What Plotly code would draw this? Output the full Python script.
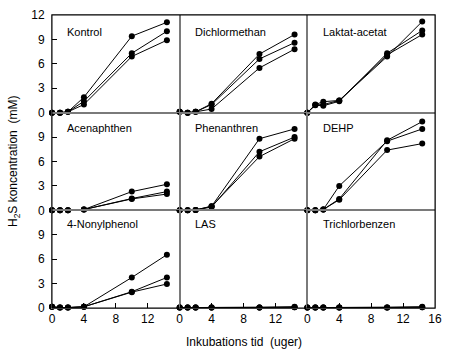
import plotly.graph_objects as go
from plotly.subplots import make_subplots

weeks = [0, 1, 2, 4, 10, 14.4]

panel_names = ["Kontrol", "Dichlormethan", "Laktat-acetat",
               "Acenaphthen", "Phenanthren", "DEHP",
               "4-Nonylphenol", "LAS", "Trichlorbenzen"]

kontrol = [[0, 0, 0.1, 1.9, 9.4, 11.1],
           [0, 0, 0.1, 1.4, 7.3, 10.0],
           [0, 0, 0.1, 1.0, 6.9, 8.9]]
dichlormethan = [[0.1, 0, 0.1, 1.1, 7.2, 9.6],
                 [0.1, 0, 0.1, 1.0, 6.6, 8.6],
                 [0.1, 0, 0.1, 0.45, 5.5, 7.8]]
laktat_acetat = [[0, 1.0, 1.35, 1.5, 6.9, 11.2],
                 [0, 0.9, 0.85, 1.4, 7.3, 10.1],
                 [0, 0.95, 1.0, 1.5, 7.1, 9.6]]
acenaphthen = [[0, 0, 0, 0.1, 2.3, 3.2],
               [0, 0, 0, 0.1, 1.45, 2.3],
               [0, 0, 0, 0.1, 1.4, 2.0]]
phenanthren = [[0, 0, 0.05, 0.5, 8.8, 10.0],
               [0, 0, 0.05, 0.4, 7.2, 9.0],
               [0, 0, 0.05, 0.5, 6.6, 8.8]]
dehp = [[0, 0, 0.1, 3.0, 8.5, 10.0],
        [0, 0, 0.1, 1.4, 8.6, 10.9],
        [0, 0, 0.1, 1.3, 7.4, 8.2]]
nonylphenol = [[0.15, 0.05, 0.05, 0.15, 3.75, 6.55],
               [0.15, 0.05, 0.05, 0.15, 2.0, 3.75],
               [0.15, 0.05, 0.05, 0.15, 1.95, 2.95]]
las = [[0.05, 0.05, 0.05, 0.05, 0.05, 0.15],
       [0.05, 0.05, 0.05, 0.05, 0.05, 0.1],
       [0.05, 0.05, 0.05, 0.05, 0.05, 0.1]]
trichlorbenzen = [[0.05, 0.05, 0.05, 0.05, 0.05, 0.15],
                  [0.05, 0.05, 0.05, 0.05, 0.05, 0.1],
                  [0.05, 0.05, 0.05, 0.05, 0.05, 0.1]]

panels = [kontrol, dichlormethan, laktat_acetat,
          acenaphthen, phenanthren, dehp,
          nonylphenol, las, trichlorbenzen]

y_ticks_top = [0, 3, 6, 9, 12]
y_ticks_other = [0, 3, 6, 9]
x_ticks_inner = [0, 4, 8, 12]
x_ticks_last = [0, 4, 8, 12, 16]

FONT = "Liberation Sans, Arial, sans-serif"

fig = make_subplots(rows=3, cols=3, horizontal_spacing=0, vertical_spacing=0)

for i, series in enumerate(panels):
    r, c = i // 3 + 1, i % 3 + 1
    for s in series:
        fig.add_trace(go.Scatter(
            x=weeks, y=s, mode="lines+markers",
            line=dict(color="black", width=1),
            marker=dict(color="black", size=6),
            cliponaxis=False, showlegend=False), row=r, col=c)

for i in range(9):
    r, c = i // 3 + 1, i % 3 + 1
    fig.update_xaxes(
        range=[0, 16], showgrid=False, zeroline=False,
        showline=True, mirror=True, linecolor="#7a7a7a", linewidth=1,
        tickvals=(x_ticks_last if c == 3 else x_ticks_inner) if r == 3 else [],
        ticks="inside" if r == 3 else "", ticklen=5, tickcolor="black",
        showticklabels=(r == 3),
        tickfont=dict(family=FONT, size=12, color="black"),
        row=r, col=c)
    fig.update_yaxes(
        range=[0, 12], showgrid=False, zeroline=False,
        showline=True, mirror=True, linecolor="#7a7a7a", linewidth=1,
        tickvals=(y_ticks_top if r == 1 else y_ticks_other) if c == 1 else [],
        ticks="inside" if c == 1 else "", ticklen=5, tickcolor="black",
        showticklabels=(c == 1), ticklabelstandoff=4,
        tickfont=dict(family=FONT, size=12, color="black"),
        row=r, col=c)

title_y = [0.83, 0.84, 0.865]
for i, name in enumerate(panel_names):
    r = i // 3
    ax = "" if i == 0 else str(i + 1)
    fig.add_annotation(
        text=name, xref=f"x{ax} domain", yref=f"y{ax} domain",
        x=0.105, y=title_y[r], xanchor="left", yanchor="middle",
        showarrow=False, font=dict(family=FONT, size=11, color="black"))

fig.add_shape(type="rect", xref="paper", yref="paper", x0=0, x1=1, y0=0, y1=1,
              line=dict(color="black", width=1), layer="above")

fig.add_annotation(
    text="H<sub>2</sub>S koncentration\u00a0\u00a0(mM)", xref="paper", yref="paper",
    x=(13 - 52) / 388, y=0.5, xanchor="center", yanchor="middle", textangle=-90,
    showarrow=False, font=dict(family=FONT, size=12, color="black"))
fig.add_annotation(
    text="Inkubations tid\u00a0\u00a0(uger)", xref="paper", yref="paper",
    x=0.5, y=-(343 - 308) / 300, xanchor="center", yanchor="middle",
    showarrow=False, font=dict(family=FONT, size=12, color="black"))

fig.update_layout(
    width=450, height=351,
    margin=dict(l=52, r=10, t=8, b=43),
    paper_bgcolor="white", plot_bgcolor="white",
    font=dict(family=FONT, color="black"))

fig.write_html("out.html")
